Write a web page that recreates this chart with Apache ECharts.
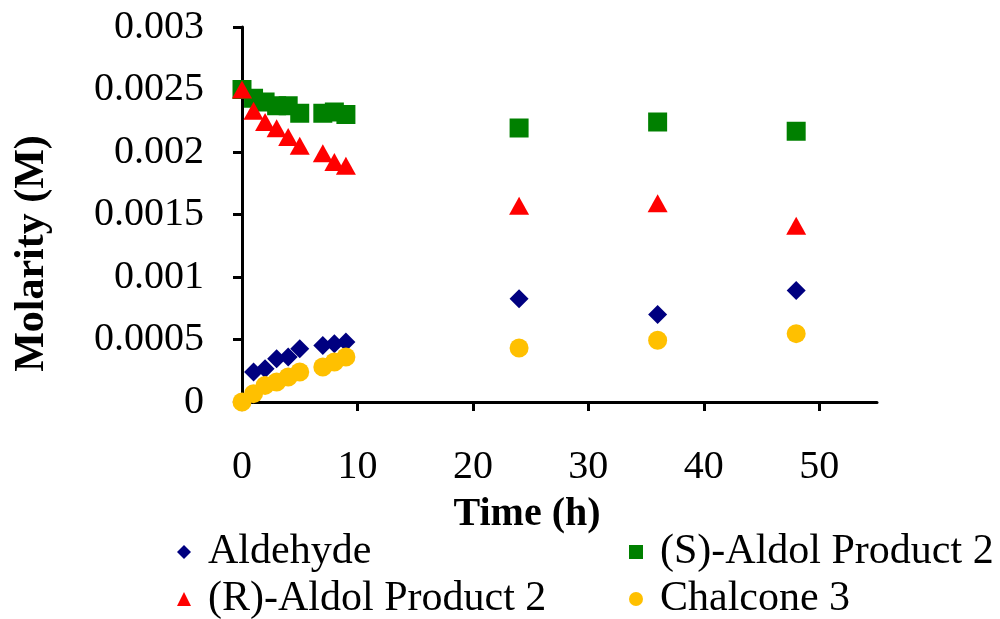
<!DOCTYPE html>
<html>
<head>
<meta charset="utf-8">
<script src="https://cdn.jsdelivr.net/npm/echarts@6/dist/echarts.min.js"></script>
<style>
  html, body { margin: 0; padding: 0; background: #fff; }
  #chart { width: 1000px; height: 619px; }
</style>
</head>
<body>
<div id="chart"></div>
<script>
// Sampling times (h)
const timeEarly = [0, 1, 2, 3, 4, 5, 7, 8, 9];
const timeLate = [24, 36, 48];
const times = timeEarly.concat(timeLate);

// Molarity (M) of each species at those times
const aldehyde = [0, 0.00024, 0.000267, 0.000347, 0.00036, 0.000427, 0.000453, 0.000467, 0.00048, 0.000827, 0.0007, 0.000893];
const sAldol = [0.0025, 0.00243, 0.0024, 0.00237, 0.00237, 0.00231, 0.00231, 0.00232, 0.0023, 0.002192, 0.00224, 0.002166];
const rAldol = [0.0025, 0.00233, 0.00224, 0.00219, 0.00212, 0.00205, 0.00199, 0.00192, 0.00189, 0.00157, 0.00159, 0.00141];
const chalcone = [0, 0.000067, 0.000133, 0.00016, 0.0002, 0.00024, 0.00028, 0.00032, 0.00036, 0.000432, 0.000494, 0.000547];

const seriesNames = ['Aldehyde', '(S)-Aldol Product 2', '(R)-Aldol Product 2', 'Chalcone 3'];
const xTicks = [0, 10, 20, 30, 40, 50];

const FONT = 'Liberation Serif, Times New Roman, serif';
const pairs = vals => times.map((t, i) => [t, vals[i]]);

const chart = echarts.init(document.getElementById('chart'), null, { renderer: 'canvas' });

const legendAt = (name, left, top) => ({
  data: [name],
  left: left,
  top: top,
  padding: 0,
  itemWidth: 14,
  itemHeight: 14,
  selectedMode: false,
  textStyle: { fontFamily: FONT, fontSize: 42, color: '#000', padding: [0, 0, 0, 12], lineHeight: 46 }
});

const marker = (color) => ({ color: color, opacity: 1 });

chart.setOption({
  animation: false,
  backgroundColor: '#fff',
  grid: { left: 242, top: 27, right: 123, bottom: 217, containLabel: false },
  xAxis: {
    type: 'value',
    min: 0,
    max: 55,
    interval: 10,
    name: 'Time (h)',
    nameLocation: 'middle',
    nameGap: 93,
    nameTextStyle: { fontFamily: FONT, fontSize: 40, fontWeight: 'bold', color: '#000', padding: [0, 65, 0, 0] },
    axisLine: { lineStyle: { color: '#000', width: 3 } },
    axisTick: { show: true, length: 9, lineStyle: { color: '#000', width: 3 }, customValues: xTicks },
    axisLabel: { fontFamily: FONT, fontSize: 40, color: '#000', margin: 45, customValues: xTicks },
    splitLine: { show: false }
  },
  yAxis: {
    type: 'value',
    min: 0,
    max: 0.003,
    interval: 0.0005,
    name: 'Molarity (M)',
    nameLocation: 'middle',
    nameGap: 189,
    nameTextStyle: { fontFamily: FONT, fontSize: 42, fontWeight: 'bold', color: '#000', padding: [0, 78, 0, 0] },
    axisLine: { show: true, lineStyle: { color: '#000', width: 3 } },
    axisTick: { show: true, length: 9, lineStyle: { color: '#000', width: 3 } },
    axisLabel: {
      fontFamily: FONT, fontSize: 40, color: '#000', margin: 38,
      formatter: v => String(+v.toFixed(4))
    },
    splitLine: { show: false }
  },
  legend: [
    legendAt(seriesNames[0], 177, 529),
    legendAt(seriesNames[1], 629, 529),
    legendAt(seriesNames[2], 177, 576),
    legendAt(seriesNames[3], 629, 576)
  ],
  series: [
    { name: seriesNames[0], type: 'scatter', symbol: 'diamond', symbolSize: 19, itemStyle: marker('#000080'), data: pairs(aldehyde) },
    { name: seriesNames[1], type: 'scatter', symbol: 'rect', symbolSize: 19, itemStyle: marker('#008000'), data: pairs(sAldol) },
    { name: seriesNames[2], type: 'scatter', symbol: 'triangle', symbolSize: [20, 18], itemStyle: marker('#FF0000'), data: pairs(rAldol) },
    { name: seriesNames[3], type: 'scatter', symbol: 'circle', symbolSize: 19, itemStyle: marker('#FFC000'), data: pairs(chalcone) }
  ]
});
</script>
</body>
</html>
